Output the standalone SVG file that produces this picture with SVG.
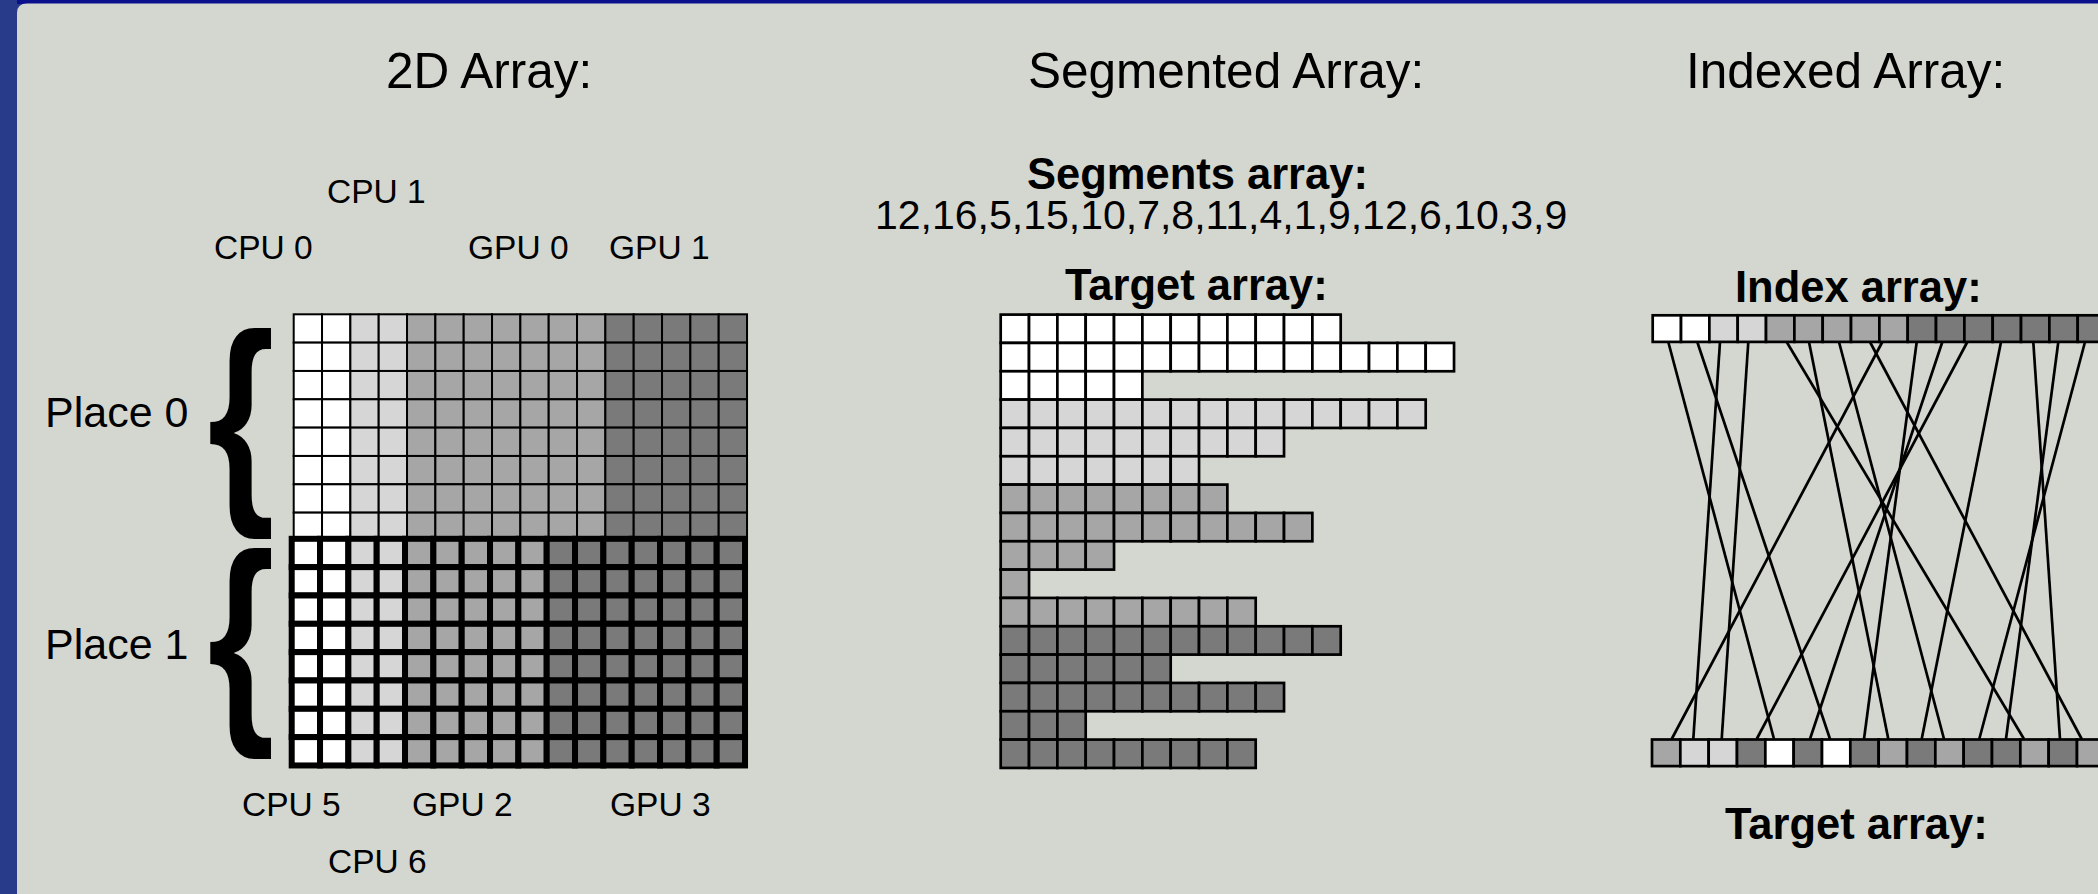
<svg xmlns="http://www.w3.org/2000/svg" xmlns:xlink="http://www.w3.org/1999/xlink" width="2098" height="894" viewBox="0 0 2098 894">
<style>
text{font-family:"Liberation Sans",Arial,Helvetica,sans-serif;fill:#000}
.title{font-size:49.5px}
.lbl{font-size:33.5px}
.place{font-size:43px}
.bold{font-size:43.5px;font-weight:bold}
.nums{font-size:41px}
.brace{font-size:227px;font-weight:bold}
.w{fill:#ffffff}.l{fill:#d6d6d6}.m{fill:#a6a6a6}.d{fill:#7a7a7a}
.thin{stroke:#000;stroke-width:2}
.thick{stroke:#000;stroke-width:6}
.med{stroke:#000;stroke-width:2.7}
.conn line{stroke:#000;stroke-width:2.7;fill:none}
</style>
<defs>
<rect id="c" width="28.33" height="28.33"/>
<rect id="ci" width="28.33" height="26.6"/>
</defs>

<g id="background">
<rect width="2098" height="894" fill="#283a8a"/>
<rect x="17" width="2081" height="4" fill="#0b108c"/>
<path d="M17,13 Q17,3.5 27,3.5 H2098 V894 H17 Z" fill="#d4d7d0"/>
</g>

<g id="titles">
<text class="title" x="386" y="87.5">2D Array:</text>
<text class="title" x="1028" y="87.5">Segmented Array:</text>
<text class="title" x="1686" y="87.5">Indexed Array:</text>
</g>

<g id="cpu-labels">
<text class="lbl" x="327" y="203">CPU 1</text>
<text class="lbl" x="214" y="259.3">CPU 0</text>
<text class="lbl" x="468" y="259.3">GPU 0</text>
<text class="lbl" x="609" y="259.3">GPU 1</text>
<text class="lbl" x="242" y="815.7">CPU 5</text>
<text class="lbl" x="412" y="815.7">GPU 2</text>
<text class="lbl" x="610" y="815.7">GPU 3</text>
<text class="lbl" x="328" y="872.6">CPU 6</text>
</g>

<g id="place0">
<text class="place" x="45" y="427.3">Place 0</text>
<text class="brace" transform="translate(207.5,492) scale(0.76,1)">{</text>
</g>
<g id="place1">
<text class="place" x="45" y="659">Place 1</text>
<text class="brace" transform="translate(207.5,712.3) scale(0.76,1)">{</text>
</g>

<g id="place0-grid" class="thin" transform="translate(293.7,314.3)">
<g id="p0row">
<use href="#c" class="w" x="0"/><use href="#c" class="w" x="28.33"/><use href="#c" class="l" x="56.67"/><use href="#c" class="l" x="85"/>
<use href="#c" class="m" x="113.33"/><use href="#c" class="m" x="141.67"/><use href="#c" class="m" x="170"/><use href="#c" class="m" x="198.33"/><use href="#c" class="m" x="226.67"/><use href="#c" class="m" x="255"/><use href="#c" class="m" x="283.33"/>
<use href="#c" class="d" x="311.67"/><use href="#c" class="d" x="340"/><use href="#c" class="d" x="368.33"/><use href="#c" class="d" x="396.67"/><use href="#c" class="d" x="425"/>
</g>
<use href="#p0row" y="28.33"/><use href="#p0row" y="56.67"/><use href="#p0row" y="85"/><use href="#p0row" y="113.33"/><use href="#p0row" y="141.67"/><use href="#p0row" y="170"/><use href="#p0row" y="198.33"/>
</g>

<g id="place1-grid" class="thick" transform="translate(291.7,538.8)">
<g id="p1row">
<use href="#c" class="w" x="0"/><use href="#c" class="w" x="28.33"/><use href="#c" class="l" x="56.67"/><use href="#c" class="l" x="85"/>
<use href="#c" class="m" x="113.33"/><use href="#c" class="m" x="141.67"/><use href="#c" class="m" x="170"/><use href="#c" class="m" x="198.33"/><use href="#c" class="m" x="226.67"/>
<use href="#c" class="d" x="255"/><use href="#c" class="d" x="283.33"/><use href="#c" class="d" x="311.67"/><use href="#c" class="d" x="340"/><use href="#c" class="d" x="368.33"/><use href="#c" class="d" x="396.67"/><use href="#c" class="d" x="425"/>
</g>
<use href="#p1row" y="28.33"/><use href="#p1row" y="56.67"/><use href="#p1row" y="85"/><use href="#p1row" y="113.33"/><use href="#p1row" y="141.67"/><use href="#p1row" y="170"/><use href="#p1row" y="198.33"/>
</g>

<g id="segments-array">
<text class="bold" x="1027" y="189">Segments array:</text>
<text class="nums" x="875" y="229">12,16,5,15,10,7,8,11,4,1,9,12,6,10,3,9</text>
</g>

<g id="segmented-target">
<text class="bold" x="1065" y="300">Target array:</text>
<g class="med" transform="translate(1000.7,314.6)">
<g class="w"><use href="#c" x="0"/><use href="#c" x="28.33"/><use href="#c" x="56.67"/><use href="#c" x="85"/><use href="#c" x="113.33"/><use href="#c" x="141.67"/><use href="#c" x="170"/><use href="#c" x="198.33"/><use href="#c" x="226.67"/><use href="#c" x="255"/><use href="#c" x="283.33"/><use href="#c" x="311.67"/></g>
<g class="w" transform="translate(0,28.33)"><use href="#c" x="0"/><use href="#c" x="28.33"/><use href="#c" x="56.67"/><use href="#c" x="85"/><use href="#c" x="113.33"/><use href="#c" x="141.67"/><use href="#c" x="170"/><use href="#c" x="198.33"/><use href="#c" x="226.67"/><use href="#c" x="255"/><use href="#c" x="283.33"/><use href="#c" x="311.67"/><use href="#c" x="340"/><use href="#c" x="368.33"/><use href="#c" x="396.67"/><use href="#c" x="425"/></g>
<g class="w" transform="translate(0,56.67)"><use href="#c" x="0"/><use href="#c" x="28.33"/><use href="#c" x="56.67"/><use href="#c" x="85"/><use href="#c" x="113.33"/></g>
<g class="l" transform="translate(0,85)"><use href="#c" x="0"/><use href="#c" x="28.33"/><use href="#c" x="56.67"/><use href="#c" x="85"/><use href="#c" x="113.33"/><use href="#c" x="141.67"/><use href="#c" x="170"/><use href="#c" x="198.33"/><use href="#c" x="226.67"/><use href="#c" x="255"/><use href="#c" x="283.33"/><use href="#c" x="311.67"/><use href="#c" x="340"/><use href="#c" x="368.33"/><use href="#c" x="396.67"/></g>
<g class="l" transform="translate(0,113.33)"><use href="#c" x="0"/><use href="#c" x="28.33"/><use href="#c" x="56.67"/><use href="#c" x="85"/><use href="#c" x="113.33"/><use href="#c" x="141.67"/><use href="#c" x="170"/><use href="#c" x="198.33"/><use href="#c" x="226.67"/><use href="#c" x="255"/></g>
<g class="l" transform="translate(0,141.67)"><use href="#c" x="0"/><use href="#c" x="28.33"/><use href="#c" x="56.67"/><use href="#c" x="85"/><use href="#c" x="113.33"/><use href="#c" x="141.67"/><use href="#c" x="170"/></g>
<g class="m" transform="translate(0,170)"><use href="#c" x="0"/><use href="#c" x="28.33"/><use href="#c" x="56.67"/><use href="#c" x="85"/><use href="#c" x="113.33"/><use href="#c" x="141.67"/><use href="#c" x="170"/><use href="#c" x="198.33"/></g>
<g class="m" transform="translate(0,198.33)"><use href="#c" x="0"/><use href="#c" x="28.33"/><use href="#c" x="56.67"/><use href="#c" x="85"/><use href="#c" x="113.33"/><use href="#c" x="141.67"/><use href="#c" x="170"/><use href="#c" x="198.33"/><use href="#c" x="226.67"/><use href="#c" x="255"/><use href="#c" x="283.33"/></g>
<g class="m" transform="translate(0,226.67)"><use href="#c" x="0"/><use href="#c" x="28.33"/><use href="#c" x="56.67"/><use href="#c" x="85"/></g>
<g class="m" transform="translate(0,255)"><use href="#c" x="0"/></g>
<g class="m" transform="translate(0,283.33)"><use href="#c" x="0"/><use href="#c" x="28.33"/><use href="#c" x="56.67"/><use href="#c" x="85"/><use href="#c" x="113.33"/><use href="#c" x="141.67"/><use href="#c" x="170"/><use href="#c" x="198.33"/><use href="#c" x="226.67"/></g>
<g class="d" transform="translate(0,311.67)"><use href="#c" x="0"/><use href="#c" x="28.33"/><use href="#c" x="56.67"/><use href="#c" x="85"/><use href="#c" x="113.33"/><use href="#c" x="141.67"/><use href="#c" x="170"/><use href="#c" x="198.33"/><use href="#c" x="226.67"/><use href="#c" x="255"/><use href="#c" x="283.33"/><use href="#c" x="311.67"/></g>
<g class="d" transform="translate(0,340)"><use href="#c" x="0"/><use href="#c" x="28.33"/><use href="#c" x="56.67"/><use href="#c" x="85"/><use href="#c" x="113.33"/><use href="#c" x="141.67"/></g>
<g class="d" transform="translate(0,368.33)"><use href="#c" x="0"/><use href="#c" x="28.33"/><use href="#c" x="56.67"/><use href="#c" x="85"/><use href="#c" x="113.33"/><use href="#c" x="141.67"/><use href="#c" x="170"/><use href="#c" x="198.33"/><use href="#c" x="226.67"/><use href="#c" x="255"/></g>
<g class="d" transform="translate(0,396.67)"><use href="#c" x="0"/><use href="#c" x="28.33"/><use href="#c" x="56.67"/></g>
<g class="d" transform="translate(0,425)"><use href="#c" x="0"/><use href="#c" x="28.33"/><use href="#c" x="56.67"/><use href="#c" x="85"/><use href="#c" x="113.33"/><use href="#c" x="141.67"/><use href="#c" x="170"/><use href="#c" x="198.33"/><use href="#c" x="226.67"/></g>
</g>
</g>

<g id="connectors" class="conn">
<line x1="1668.3" y1="342" x2="1774" y2="739"/>
<line x1="1697.3" y1="342" x2="1830" y2="739"/>
<line x1="1720" y1="342" x2="1693.3" y2="739"/>
<line x1="1748.3" y1="342" x2="1721.7" y2="739"/>
<line x1="1786.7" y1="342" x2="2024" y2="739"/>
<line x1="1809" y1="342" x2="1888.3" y2="739"/>
<line x1="1839" y1="342" x2="1944" y2="739"/>
<line x1="1870" y1="342" x2="2081.7" y2="739"/>
<line x1="1882.3" y1="342" x2="1671.7" y2="739"/>
<line x1="1916.7" y1="342" x2="1864" y2="739"/>
<line x1="1942.3" y1="342" x2="1810" y2="739"/>
<line x1="1967.3" y1="342" x2="1756.7" y2="739"/>
<line x1="2001" y1="342" x2="1921.7" y2="739"/>
<line x1="2033.3" y1="342" x2="2060" y2="739"/>
<line x1="2058.3" y1="342" x2="2006" y2="739"/>
<line x1="2085" y1="342" x2="1979.3" y2="739"/>
</g>

<g id="index-array">
<text class="bold" x="1735" y="301.5">Index array:</text>
<g class="med" transform="translate(1652.7,315.3)">
<use href="#ci" class="w" x="0"/><use href="#ci" class="w" x="28.33"/><use href="#ci" class="l" x="56.67"/><use href="#ci" class="l" x="85"/>
<use href="#ci" class="m" x="113.33"/><use href="#ci" class="m" x="141.67"/><use href="#ci" class="m" x="170"/><use href="#ci" class="m" x="198.33"/><use href="#ci" class="m" x="226.67"/>
<use href="#ci" class="d" x="255"/><use href="#ci" class="d" x="283.33"/><use href="#ci" class="d" x="311.67"/><use href="#ci" class="d" x="340"/><use href="#ci" class="d" x="368.33"/><use href="#ci" class="d" x="396.67"/><use href="#ci" class="d" x="425"/>
</g>
</g>

<g id="indexed-target">
<g class="med" transform="translate(1652,739.5)">
<use href="#ci" class="m" x="0"/><use href="#ci" class="l" x="28.33"/><use href="#ci" class="l" x="56.67"/><use href="#ci" class="d" x="85"/>
<use href="#ci" class="w" x="113.33"/><use href="#ci" class="d" x="141.67"/><use href="#ci" class="w" x="170"/><use href="#ci" class="d" x="198.33"/>
<use href="#ci" class="m" x="226.67"/><use href="#ci" class="d" x="255"/><use href="#ci" class="m" x="283.33"/><use href="#ci" class="d" x="311.67"/>
<use href="#ci" class="d" x="340"/><use href="#ci" class="m" x="368.33"/><use href="#ci" class="d" x="396.67"/><use href="#ci" class="m" x="425"/>
</g>
<text class="bold" x="1725" y="839.3">Target array:</text>
</g>
</svg>
